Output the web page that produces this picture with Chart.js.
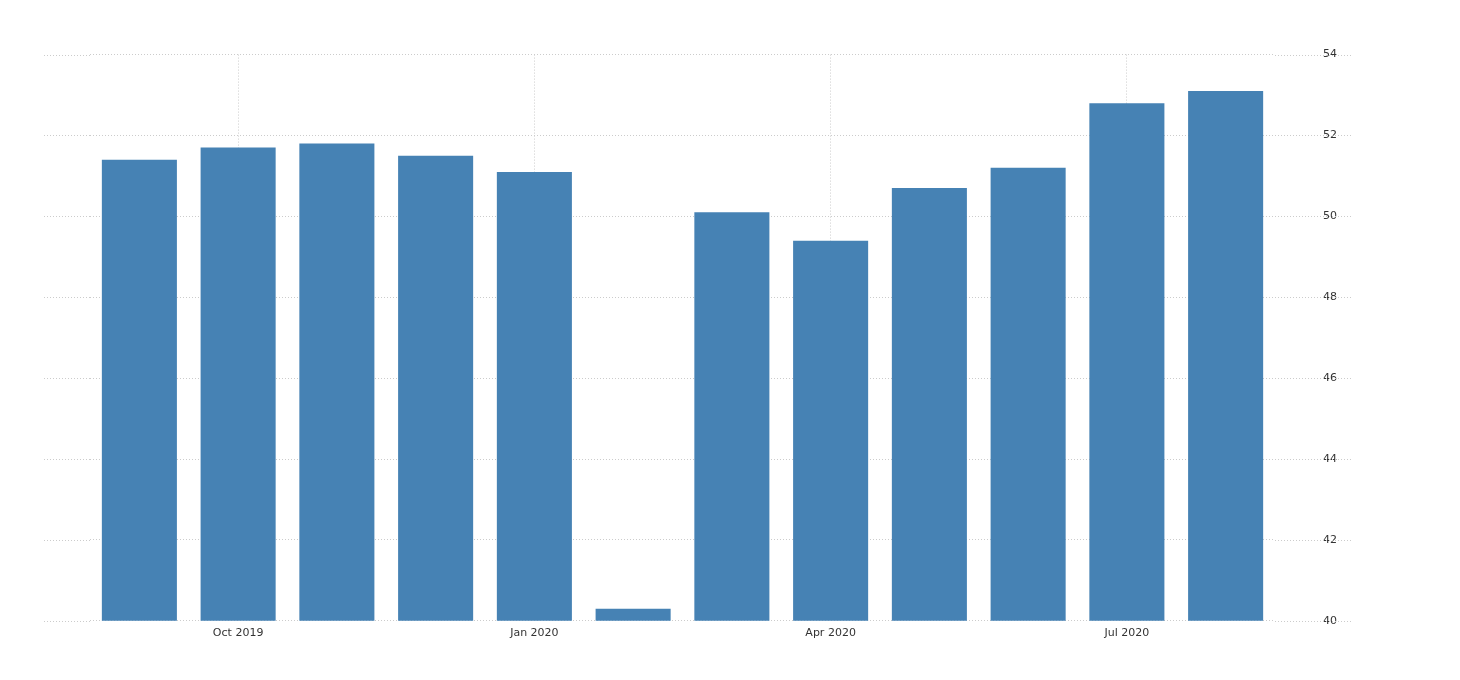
<!DOCTYPE html>
<html><head><meta charset="utf-8">
<script src="https://cdn.jsdelivr.net/npm/chart.js@4"></script>
<style>html,body{margin:0;padding:0;background:#fff}#w{width:1460px;height:680px}</style>
</head><body><div id="w"><canvas id="c"></canvas></div>
<script>
const categories = ["Sep 2019","Oct 2019","Nov 2019","Dec 2019","Jan 2020","Feb 2020","Mar 2020","Apr 2020","May 2020","Jun 2020","Jul 2020","Aug 2020"];
const values = [51.4,51.7,51.8,51.5,51.1,40.3,50.1,49.4,50.7,51.2,52.8,53.1];
const shownLabels = ["Oct 2019","Jan 2020","Apr 2020","Jul 2020"];
const yTicks = [40,42,44,46,48,50,52,54];
new Chart(document.getElementById('c'),{
  type:'bar',
  data:{labels:categories,datasets:[{data:values,backgroundColor:'#4682b4',barPercentage:0.76,categoryPercentage:1}]},
  options:{responsive:true,maintainAspectRatio:false,animation:false,
    layout:{padding:{left:90,top:32,right:75,bottom:34}},
    plugins:{legend:{display:false},tooltip:{enabled:false}},
    scales:{
      x:{offset:true,
        ticks:{callback:(v)=>shownLabels.includes(categories[v])?categories[v]:'',color:'#333',font:{size:11,family:'DejaVu Sans'},maxRotation:0,autoSkip:false,padding:6},
        grid:{offset:false,drawTicks:false,color:c=>shownLabels.includes(categories[c.index])?'#ccc':'rgba(0,0,0,0)'},
        border:{display:false,dash:[1,2]}},
      y:{position:'right',min:40,max:54,
        afterBuildTicks:a=>{a.ticks=yTicks.map(v=>({value:v}));},
        ticks:{color:'#333',font:{size:11,family:'DejaVu Sans'},padding:48},
        grid:{color:'#ccc',drawTicks:false},border:{display:false,dash:[1,2]}}
    }},
  plugins:[{id:'ext',beforeDatasetsDraw(ch){const ctx=ch.ctx,a=ch.chartArea,y=ch.scales.y;ctx.save();ctx.strokeStyle='#ccc';ctx.lineWidth=1;ctx.setLineDash([1,2]);
    yTicks.forEach(t=>{const p=Math.round(y.getPixelForValue(t))+0.5;ctx.beginPath();ctx.moveTo(44,p);ctx.lineTo(a.left,p);ctx.moveTo(a.right,p);ctx.lineTo(1352,p);ctx.stroke();});ctx.restore();}}]
});
</script></body></html>
